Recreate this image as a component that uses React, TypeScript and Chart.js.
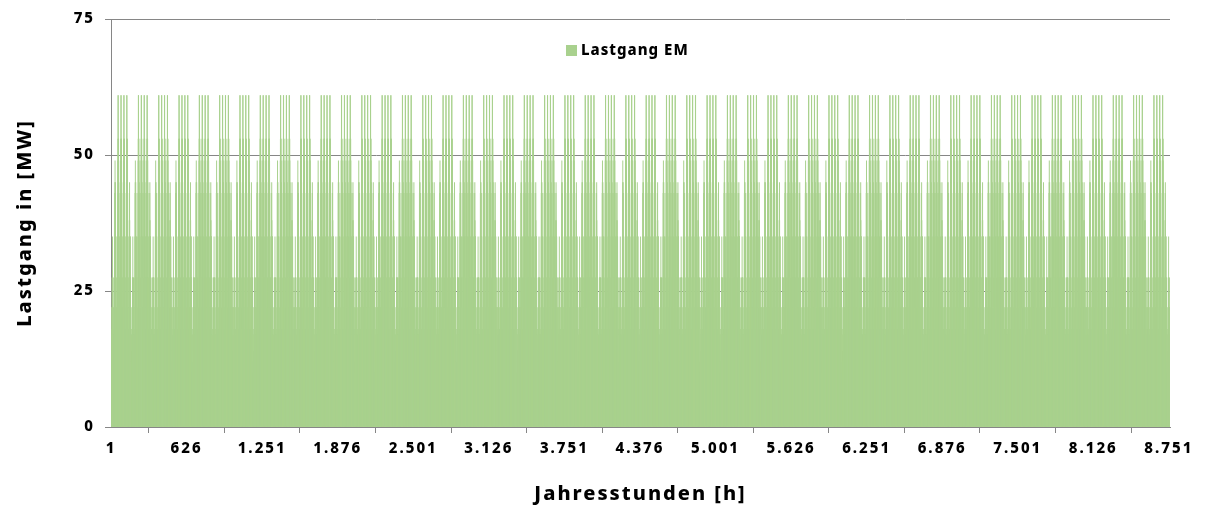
import { useEffect, useRef } from 'react';
import { Chart, registerables } from 'chart.js';

Chart.register(...registerables);

// Hourly load profiles (MW), one per day type
const sundayProfile = [12, 10, 10, 12, 14, 17, 18, 22, 22, 27.5, 22, 27.5, 35, 27.5, 27.5, 22, 22, 27.5, 22, 18, 18, 17, 17, 17];
const mondayProfile = [17, 17, 17, 18, 22, 27.5, 35, 43, 45, 49, 43, 43, 45, 43, 35, 35, 35, 27.5, 27.5, 22, 22, 18, 18, 17];
const weekdayProfile = [18, 18, 18, 18, 22, 27.5, 35, 43, 49, 53, 61, 61, 53, 45, 53, 49, 45, 43, 35, 35, 27.5, 27.5, 22, 18];
const saturdayProfile = [18, 18, 17, 18, 22, 27.5, 35, 38, 43, 45, 38, 35, 35, 35, 35, 27.5, 27.5, 27.5, 22, 22, 18, 18, 17, 17];

// Week sequence starting with day 1 of the year
const weekProfiles = [sundayProfile, mondayProfile, weekdayProfile, weekdayProfile, weekdayProfile, weekdayProfile, saturdayProfile];
const daysInYear = 365;

const xTickValues = [1, 626, 1251, 1876, 2501, 3126, 3751, 4376, 5001, 5626, 6251, 6876, 7501, 8126, 8751];
const xTickLabels = ['1', '626', '1.251', '1.876', '2.501', '3.126', '3.751', '4.376', '5.001', '5.626', '6.251', '6.876', '7.501', '8.126', '8.751'];
const yTickValues = [0, 25, 50, 75];
const seriesLabel = 'Lastgang EM';
const xTitle = 'Jahresstunden [h]';
const yTitle = 'Lastgang in [MW]';

const hours: number[] = [];
const loads: number[] = [];
for (let d = 0; d < daysInYear; d++) {
  const profile = weekProfiles[d % weekProfiles.length];
  for (let h = 0; h < profile.length; h++) {
    hours.push(d * 24 + h + 1);
    loads.push(profile[h]);
  }
}

const GREEN = '#a9d18e';
const GRID = '#868686';
const TEXT = '#000000';
const FONT = "'Noto Sans', 'Open Sans', sans-serif";
const SPACING = '2px';

const spacingPlugin = {
  id: 'spacing',
  beforeLayout(chart: any) {
    chart.ctx.letterSpacing = SPACING;
  },
  beforeDraw(chart: any) {
    chart.ctx.letterSpacing = SPACING;
  },
};

const legendPlugin = {
  id: 'innerLegend',
  afterDraw(chart: any) {
    const ctx = chart.ctx;
    const area = chart.chartArea;
    const bx = area.left + 455;
    const by = area.top + 26;
    ctx.save();
    ctx.letterSpacing = '1px';
    ctx.fillStyle = GREEN;
    ctx.fillRect(bx, by, 11, 11);
    ctx.fillStyle = TEXT;
    ctx.font = `800 15px ${FONT}`;
    ctx.textBaseline = 'middle';
    ctx.textAlign = 'left';
    ctx.fillText(chart.data.datasets[0].label, bx + 15, by + 5.5);
    ctx.restore();
  },
};

export default function App() {
  const canvasRef = useRef<HTMLCanvasElement | null>(null);

  useEffect(() => {
    const canvas = canvasRef.current;
    if (!canvas) return;
    const chart = new Chart(canvas, {
      type: 'bar',
      data: {
        datasets: [
          {
            label: seriesLabel,
            data: hours.map((x, i) => ({ x, y: loads[i] })),
            backgroundColor: GREEN,
            borderWidth: 0,
            barThickness: 1,
            inflateAmount: 0,
          } as any,
        ],
      },
      options: {
        animation: false,
        responsive: false,
        events: [],
        layout: { padding: { top: 19, right: 35, left: 0, bottom: 0 } },
        plugins: {
          legend: { display: false },
          tooltip: { enabled: false },
        },
        scales: {
          x: {
            type: 'linear',
            min: 0.5,
            max: 8760.5,
            offset: false,
            afterBuildTicks: (scale: any) => {
              scale.ticks = xTickValues.map((v) => ({ value: v }));
            },
            afterFit: (scale: any) => {
              scale.height = 82;
            },
            ticks: {
              autoSkip: false,
              maxRotation: 0,
              padding: 7,
              color: TEXT,
              font: { family: FONT, size: 15, weight: 800 },
              callback: (v: any) => {
                const i = xTickValues.indexOf(Number(v));
                return i >= 0 ? xTickLabels[i] : '';
              },
            },
            grid: { drawOnChartArea: false, drawTicks: true, tickLength: 6, color: GRID },
            border: { color: GRID, width: 1 },
            title: {
              display: true,
              text: xTitle,
              color: TEXT,
              font: { family: FONT, size: 20, weight: 800 },
              padding: { top: 0, bottom: 3 },
            },
          },
          y: {
            min: 0,
            max: 75,
            z: 1,
            afterBuildTicks: (scale: any) => {
              scale.ticks = yTickValues.map((v) => ({ value: v }));
            },
            afterFit: (scale: any) => {
              scale.width = 111;
            },
            ticks: {
              padding: 10,
              color: TEXT,
              font: { family: FONT, size: 15, weight: 800 },
            },
            grid: { color: GRID, tickLength: 6 },
            border: { color: GRID, width: 1 },
            title: {
              display: true,
              text: yTitle,
              color: TEXT,
              font: { family: FONT, size: 20, weight: 800 },
              padding: { top: 13, bottom: 0 },
            },
          },
        },
      } as any,
      plugins: [spacingPlugin, legendPlugin],
    });
    return () => chart.destroy();
  }, []);

  return (
    <div style={{ position: 'absolute', left: 0, top: 0, width: 1205, height: 509, background: '#fff' }}>
      <canvas ref={canvasRef} width={1205} height={509} style={{ display: 'block', width: 1205, height: 509 }} />
    </div>
  );
}
